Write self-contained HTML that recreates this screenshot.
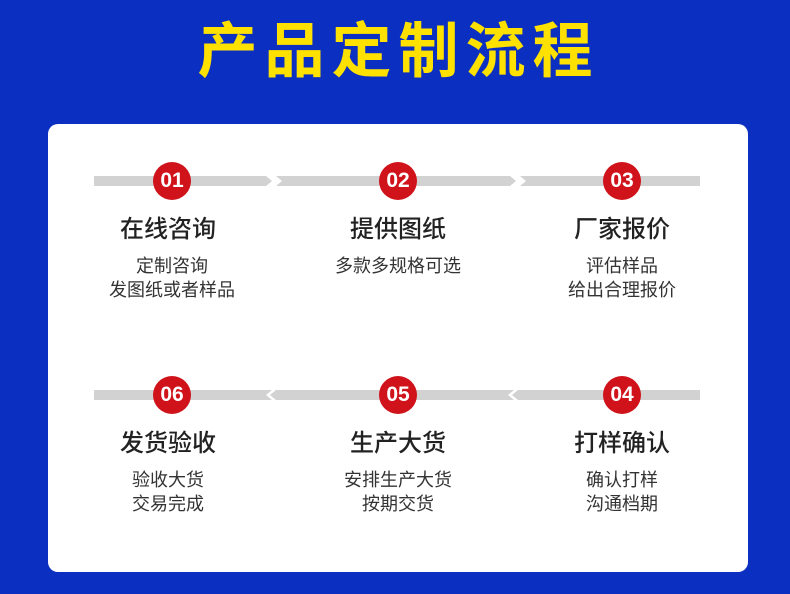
<!DOCTYPE html>
<html><head><meta charset="utf-8"><style>
body{margin:0;width:790px;height:594px;background:#0b2fc0;position:relative;overflow:hidden;font-family:"Liberation Sans","Noto Sans CJK SC",sans-serif;}
.title{position:absolute;left:0;width:790px;top:14px;text-align:center;color:#ffe100;font-size:60px;font-weight:bold;letter-spacing:7px;line-height:76px;text-indent:7px}
.card{position:absolute;left:48px;top:124px;width:700px;height:448px;background:#fff;border-radius:10px}
svg{position:absolute;left:0;top:0}
.c{position:absolute;width:38px;height:38px;border-radius:50%;background:#d0121b;color:#fff;font-weight:bold;font-size:21px;line-height:38px;text-align:center;font-family:"Liberation Sans",sans-serif;}
.t{position:absolute;width:220px;text-align:center;color:#222;font-size:24px;line-height:30px;font-weight:500}
.s{position:absolute;width:220px;text-align:center;color:#333;font-size:18px;line-height:24px}
</style></head><body>
<div class="title">产品定制流程</div>
<div class="card"></div>
<svg width="790" height="594">
<g fill="#d2d2d2">
<polygon points="94,176 266,176 272,181 266,186 94,186"/>
<polygon points="276,176 510,176 516,181 510,186 276,186 282,181"/>
<polygon points="520,176 700,176 700,186 520,186 526,181"/>
<polygon points="94,390 272,390 266,395 272,400 94,400"/>
<polygon points="270,395 276,390 514,390 508,395 514,400 276,400"/>
<polygon points="512,395 518,390 700,390 700,400 518,400"/>
</g></svg>
<div class="c" style="left:153px;top:162px">01</div>
<div class="c" style="left:379px;top:162px">02</div>
<div class="c" style="left:603px;top:162px">03</div>
<div class="c" style="left:153px;top:376px">06</div>
<div class="c" style="left:379px;top:376px">05</div>
<div class="c" style="left:603px;top:376px">04</div>
<div class="t" style="left:58px;top:215px">在线咨询</div>
<div class="t" style="left:288px;top:215px">提供图纸</div>
<div class="t" style="left:512px;top:215px">厂家报价</div>
<div class="s" style="left:62px;top:254px">定制咨询<br>发图纸或者样品</div>
<div class="s" style="left:288px;top:254px">多款多规格可选</div>
<div class="s" style="left:512px;top:254px">评估样品<br>给出合理报价</div>
<div class="t" style="left:58px;top:429px">发货验收</div>
<div class="t" style="left:288px;top:429px">生产大货</div>
<div class="t" style="left:512px;top:429px">打样确认</div>
<div class="s" style="left:58px;top:468px">验收大货<br>交易完成</div>
<div class="s" style="left:288px;top:468px">安排生产大货<br>按期交货</div>
<div class="s" style="left:512px;top:468px">确认打样<br>沟通档期</div>
</body></html>
